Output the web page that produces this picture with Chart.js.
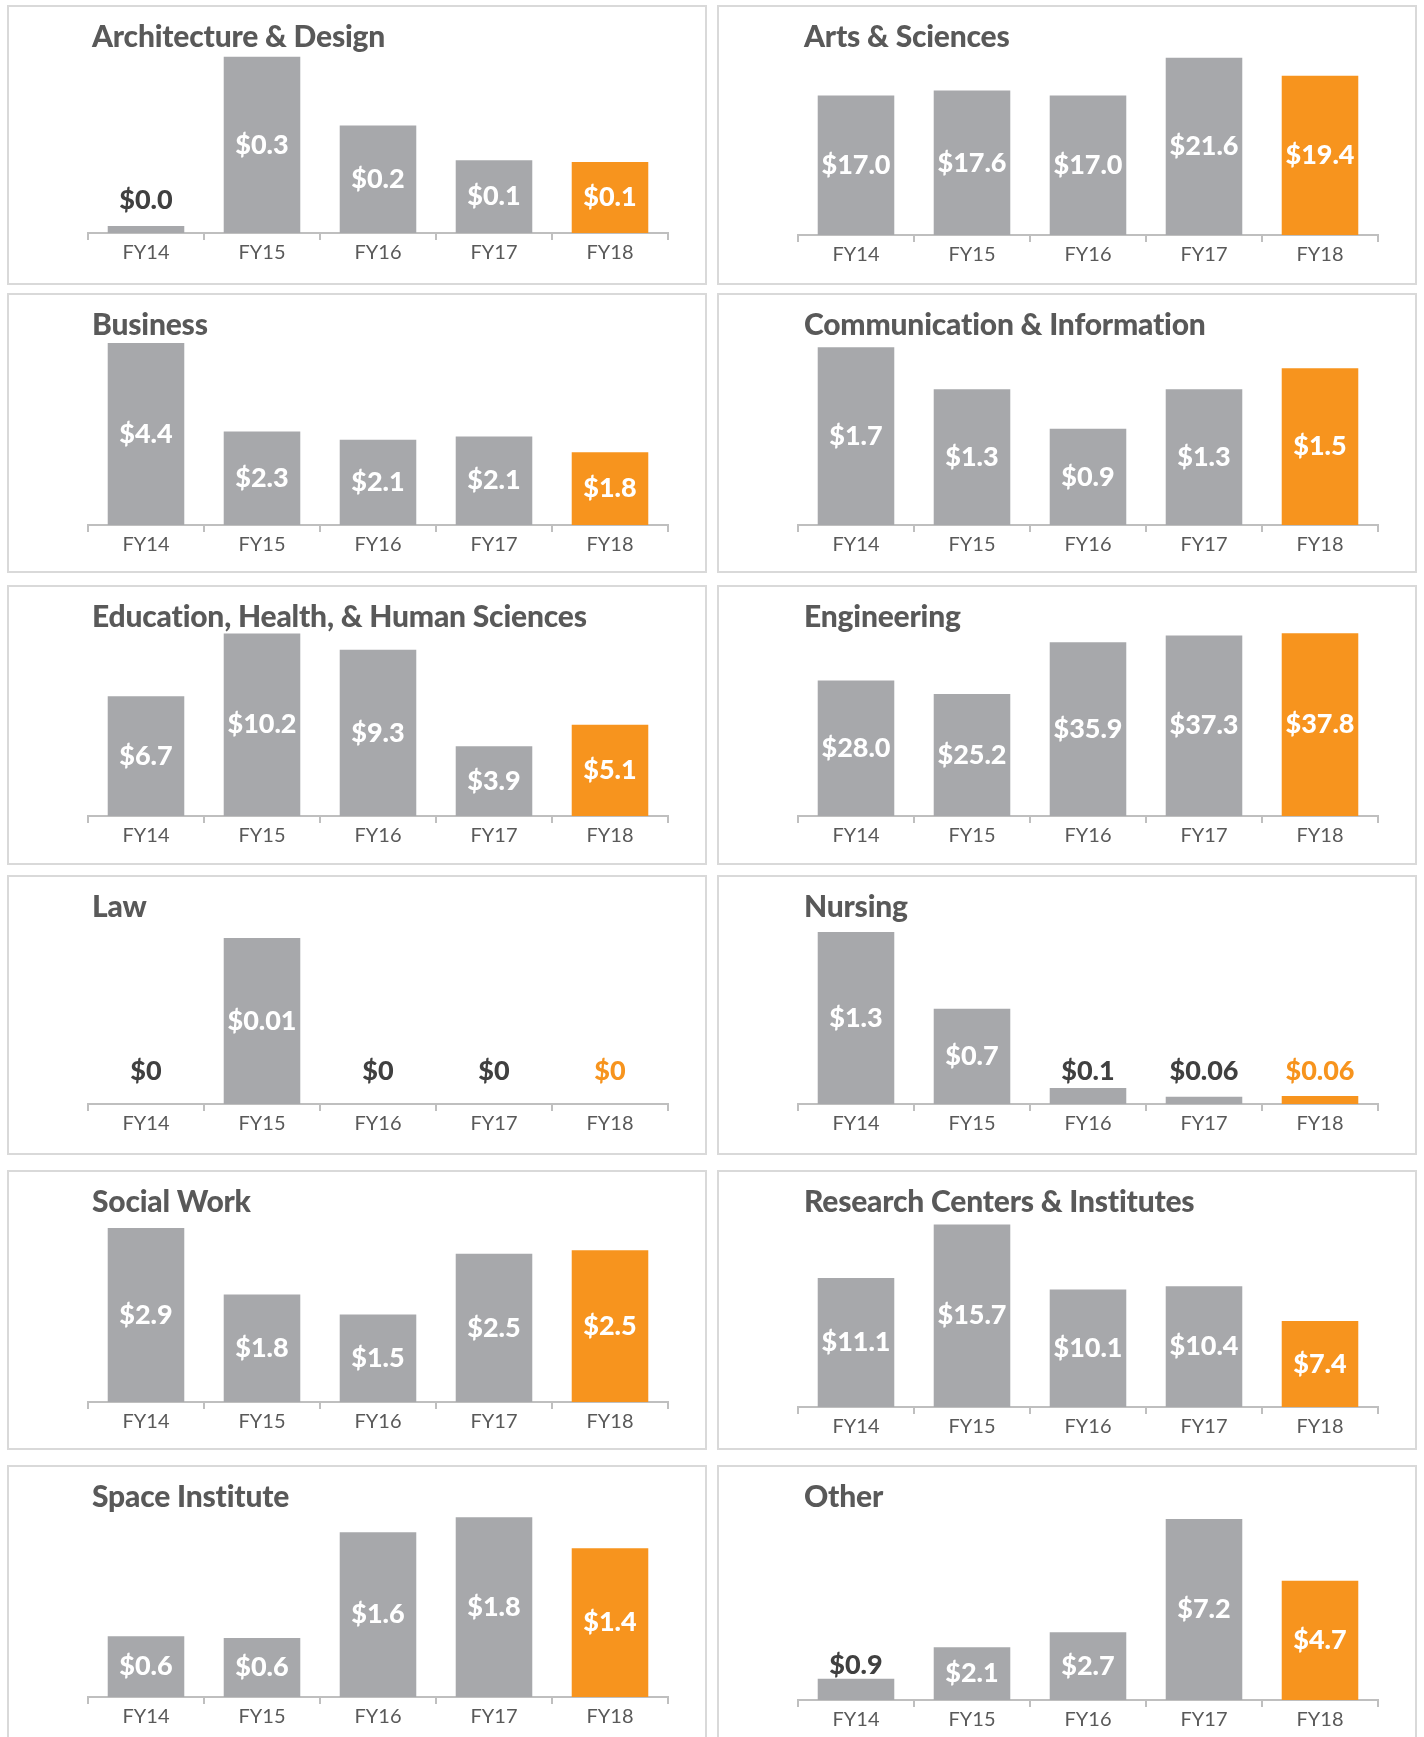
<!DOCTYPE html>
<html>
<head>
<meta charset="utf-8">
<script src="https://cdn.jsdelivr.net/npm/chart.js@4/dist/chart.umd.min.js"></script>
<style>
  body { margin: 0; background: #fff; width: 1424px; height: 1737px; overflow: hidden; position: relative; font-family: Lato, "Open Sans", sans-serif; }
  .panel { position: absolute; width: 696px; height: 276px; border: 2px solid #d9d9d9; background: #fff; }
  .panel h2 { position: absolute; left: 83px; top: 13px; margin: 0; font: 900 30px/30px Lato, sans-serif; color: #595959; white-space: nowrap; letter-spacing: -0.2px; }
  .panel.right h2 { left: 85px; }
  .panel canvas { position: absolute; left: 0; top: 0; }
</style>
</head>
<body>
<script>
// =========================
// DATA ($ millions)
// =========================
const years = ['FY14', 'FY15', 'FY16', 'FY17', 'FY18'];

const titles = [
    'Architecture & Design', 'Arts & Sciences',
    'Business', 'Communication & Information',
    'Education, Health, & Human Sciences', 'Engineering',
    'Law', 'Nursing',
    'Social Work', 'Research Centers & Institutes',
    'Space Institute', 'Other'
];

const archDesign   = [0.012, 0.30, 0.183, 0.124, 0.121];
const artsSciences = [17.0, 17.6, 17.0, 21.6, 19.4];
const business     = [4.4, 2.26, 2.06, 2.14, 1.76];
const commInfo     = [1.7, 1.3, 0.92, 1.3, 1.5];
const educationHHS = [6.7, 10.2, 9.3, 3.9, 5.1];
const engineering  = [28.0, 25.2, 35.9, 37.3, 37.8];
const law          = [0, 0.01, 0, 0, 0];
const nursing      = [1.3, 0.72, 0.12, 0.055, 0.06];
const socialWork   = [2.9, 1.79, 1.46, 2.47, 2.53];
const research     = [11.1, 15.7, 10.1, 10.4, 7.4];
const space        = [0.61, 0.59, 1.65, 1.8, 1.49];
const other        = [0.85, 2.1, 2.7, 7.2, 4.75];

// data label texts as printed on the chart
const archDesignLabels   = ['$0.0', '$0.3', '$0.2', '$0.1', '$0.1'];
const artsSciencesLabels = ['$17.0', '$17.6', '$17.0', '$21.6', '$19.4'];
const businessLabels     = ['$4.4', '$2.3', '$2.1', '$2.1', '$1.8'];
const commInfoLabels     = ['$1.7', '$1.3', '$0.9', '$1.3', '$1.5'];
const educationHHSLabels = ['$6.7', '$10.2', '$9.3', '$3.9', '$5.1'];
const engineeringLabels  = ['$28.0', '$25.2', '$35.9', '$37.3', '$37.8'];
const lawLabels          = ['$0', '$0.01', '$0', '$0', '$0'];
const nursingLabels      = ['$1.3', '$0.7', '$0.1', '$0.06', '$0.06'];
const socialWorkLabels   = ['$2.9', '$1.8', '$1.5', '$2.5', '$2.5'];
const researchLabels     = ['$11.1', '$15.7', '$10.1', '$10.4', '$7.4'];
const spaceLabels        = ['$0.6', '$0.6', '$1.6', '$1.8', '$1.4'];
const otherLabels        = ['$0.9', '$2.1', '$2.7', '$7.2', '$4.7'];

// value axis maximum of each small chart
const axisMax = [0.320, 23.16, 4.64, 1.837, 10.68, 39.49, 0.01139, 1.428, 3.2, 16.95, 1.924, 7.76];

const series = [archDesign, artsSciences, business, commInfo, educationHHS, engineering,
    law, nursing, socialWork, research, space, other];
const seriesLabels = [archDesignLabels, artsSciencesLabels, businessLabels, commInfoLabels,
    educationHHSLabels, engineeringLabels, lawLabels, nursingLabels, socialWorkLabels,
    researchLabels, spaceLabels, otherLabels];

// =========================
// LAYOUT / STYLE
// =========================
const GRAY = '#a7a8ab';
const ORANGE = '#f7941e';
const AXIS = '#bfbfbf';
const panelLeft = [7, 717];
const panelTop = [5, 293, 585, 875, 1170, 1465];
// category axis position inside each panel (px from panel top)
const axisY = [228, 230, 232, 232, 231, 231, 229, 229, 232, 237, 232, 235];

// labels: centred inside the bar, or above it when the bar is too short
const barLabels = {
    id: 'barLabels',
    afterDatasetsDraw(chart, args, opts) {
        const ctx = chart.ctx;
        const meta = chart.getDatasetMeta(0);
        ctx.save();
        ctx.font = '900 27px Lato, sans-serif';
        ctx.textAlign = 'center';
        ctx.textBaseline = 'middle';
        meta.data.forEach((bar, i) => {
            const h = bar.base - bar.y;
            const last = i === years.length - 1;
            let y;
            if (h >= 35) {
                ctx.fillStyle = '#ffffff';
                y = (bar.y + bar.base) / 2;
            } else {
                ctx.fillStyle = last ? ORANGE : '#404040';
                y = Math.min(bar.y - 13, bar.base - 33);
            }
            ctx.fillText(opts.texts[i], bar.x, y);
        });
        ctx.restore();
    }
};

titles.forEach((title, k) => {
    const panel = document.createElement('div');
    panel.className = 'panel' + (k % 2 ? ' right' : '');
    panel.style.left = panelLeft[k % 2] + 'px';
    panel.style.top = panelTop[Math.floor(k / 2)] + 'px';

    const h2 = document.createElement('h2');
    h2.textContent = title;
    const canvas = document.createElement('canvas');
    canvas.width = 696;
    canvas.height = 276;
    panel.appendChild(canvas);
    panel.appendChild(h2);
    document.body.appendChild(panel);

    const xHeight = 278 - axisY[k];

    new Chart(canvas, {
        type: 'bar',
        data: {
            labels: years,
            datasets: [{
                data: series[k],
                backgroundColor: years.map((y, i) => i === years.length - 1 ? ORANGE : GRAY),
                borderWidth: 0,
                barPercentage: 0.66,
                categoryPercentage: 1.0,
            }]
        },
        options: {
            responsive: false,
            animation: false,
            layout: { padding: { left: 79, right: 37, top: 38, bottom: 0 } },
            plugins: {
                legend: { display: false },
                tooltip: { enabled: false },
                barLabels: { texts: seriesLabels[k] }
            },
            scales: {
                x: {
                    afterFit: (scale) => { scale.height = xHeight; },
                    grid: {
                        display: true,
                        drawOnChartArea: false,
                        drawTicks: true,
                        tickLength: 7,
                        color: AXIS,
                        lineWidth: 2,
                        offset: true,
                    },
                    border: { display: true, color: AXIS, width: 2 },
                    ticks: {
                        color: '#595959',
                        padding: 1,
                        font: { family: 'Lato', size: 20 },
                    }
                },
                y: {
                    display: false,
                    min: 0,
                    max: axisMax[k],
                }
            }
        },
        plugins: [barLabels]
    });
});
</script>
</body>
</html>
